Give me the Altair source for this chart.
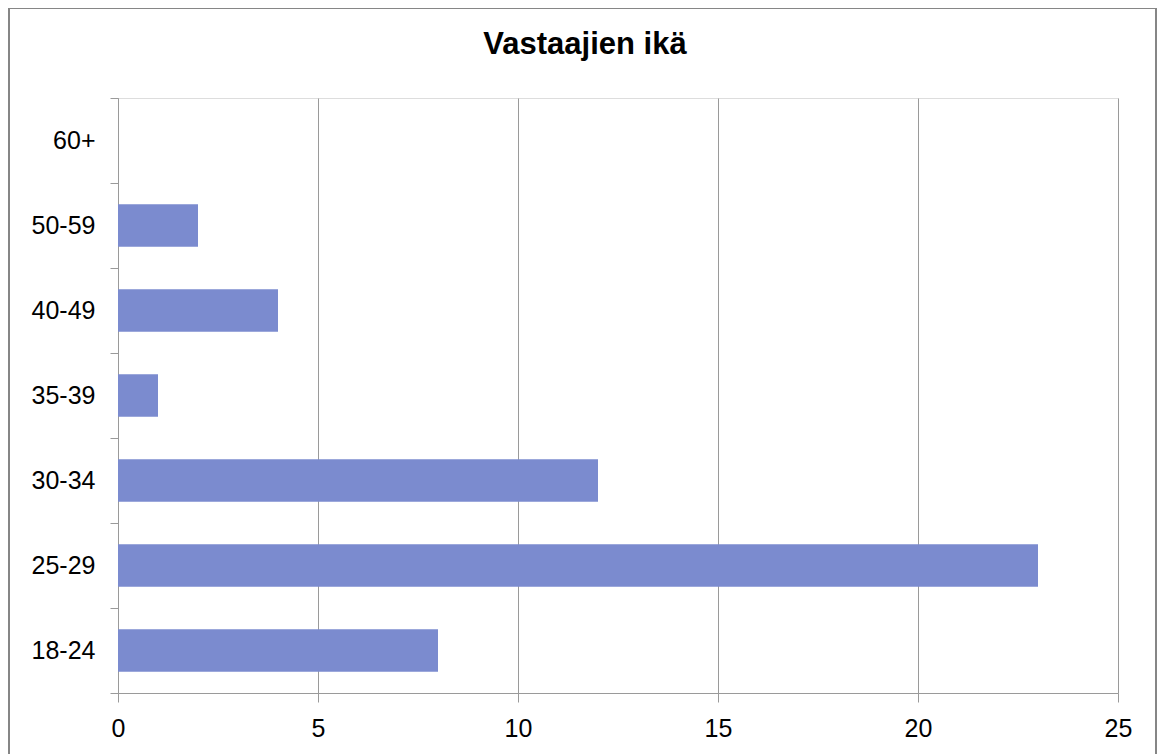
import altair as alt
import pandas as pd

categories = ["60+", "50-59", "40-49", "35-39", "30-34", "25-29", "18-24"]
counts = [0, 2, 4, 1, 12, 23, 8]
x_ticks = [0, 5, 10, 15, 20, 25]

df = pd.DataFrame({"ika": categories, "maara": counts})

FONT = "Liberation Sans"
GRID = "#9a9a9a"

bars = alt.Chart(df).mark_bar(
    color="#7B8BCF", height=alt.RelativeBandSize(0.5)
).encode(
    x=alt.X(
        "maara:Q",
        scale=alt.Scale(domain=[0, 25], nice=False, zero=True),
        axis=alt.Axis(
            values=x_ticks,
            title=None,
            grid=True,
            gridColor=GRID,
            gridWidth=1,
            domainColor=GRID,
            tickColor=GRID,
            tickSize=9,
            labelFontSize=25,
            labelFont=FONT,
            labelColor="#000000",
            labelPadding=14,
            labelFlush=False,
        ),
    ),
    y=alt.Y(
        "ika:N",
        sort=categories,
        scale=alt.Scale(paddingInner=0, paddingOuter=0),
        axis=alt.Axis(
            title=None,
            grid=False,
            domainColor=GRID,
            tickColor=GRID,
            tickSize=8,
            tickBand="extent",
            labelFontSize=25,
            labelFont=FONT,
            labelColor="#000000",
            labelPadding=15,
        ),
    ),
)

border = alt.Chart(alt.Data(values=[{"b": 1}])).mark_rect(
    fill=None, stroke="#868686", strokeWidth=2
).encode(
    x=alt.value(-109),
    x2=alt.value(1038),
    y=alt.value(-90),
    y2=alt.value(720),
)

chart = alt.layer(bars, border).properties(
    width=1000,
    height=595,
    title=alt.TitleParams(
        "Vastaajien ikä",
        font=FONT,
        fontSize=31,
        fontWeight="bold",
        color="#000000",
        anchor="middle",
        dx=-33,
        offset=-54,
    ),
    autosize=alt.AutoSizeParams(type="none"),
    padding={"left": 110, "top": 90, "right": 39, "bottom": 80},
).configure_view(stroke=GRID, strokeWidth=1).configure(background="white")

chart.save("out.html", embed_options={"renderer": "svg", "actions": False})
